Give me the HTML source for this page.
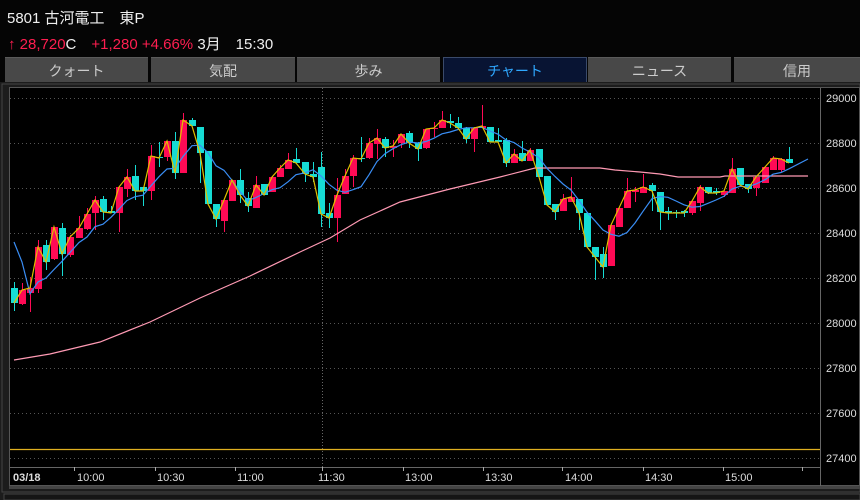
<!DOCTYPE html>
<html><head><meta charset="utf-8">
<style>
body{margin:0;width:860px;height:500px;background:#050505;overflow:hidden;font-family:"Liberation Sans","Noto Sans CJK JP",sans-serif;position:relative}
.t{position:absolute;white-space:nowrap;font-size:15px;color:#eee}
.tab{position:absolute;top:57px;height:25px;background:#484848;color:#ccc;font-size:14px;text-align:center;line-height:26px;border-top:1px solid #5a5a5a}
.sel{background:#081433;color:#2fa8ff;border:1px solid #3a4a6a}
</style></head><body>
<div class="t" style="left:7px;top:7px;">5801 古河電工　東P</div>
<div class="t" style="left:8px;top:33px;"><span style="color:#ff1e50">↑ 28,720</span>C　<span style="color:#ff1e50">+1,280 +4.66%</span> 3月　15:30</div>
<div class="tab" style="left:5px;width:143px">クォート</div>
<div class="tab" style="left:151px;width:144px">気配</div>
<div class="tab" style="left:297px;width:143px">歩み</div>
<div class="tab sel" style="left:443px;width:142px">チャート</div>
<div class="tab" style="left:588px;width:143px">ニュース</div>
<div class="tab" style="left:734px;width:126px">信用</div>
<svg id="c" width="860" height="500" style="position:absolute;left:0;top:0" xmlns="http://www.w3.org/2000/svg">
<rect x="0" y="82" width="860" height="418" fill="#1c1c1c"/>
<rect x="2" y="84" width="858" height="408" fill="none" stroke="#444"/>
<rect x="9.5" y="87.5" width="850" height="398" fill="#000" stroke="#555"/>
<rect x="9" y="486" width="851" height="3" fill="#444"/>
<rect x="4" y="494" width="856" height="6" fill="#151515" stroke="#444"/>
<line x1="820.5" y1="88" x2="820.5" y2="486" stroke="#666"/>
<line x1="10" y1="467.5" x2="820" y2="467.5" stroke="#666"/>
<g id="grid" stroke="#555" stroke-dasharray="1,3"></g>
<line x1="322.5" y1="88" x2="322.5" y2="467" stroke="#666" stroke-dasharray="1,2"/>
<line x1="10" y1="449.5" x2="820" y2="449.5" stroke="#e0b020" stroke-width="1.2"/>
<g font-family="Liberation Sans,sans-serif" font-size="11" fill="#ddd">
<text x="826" y="102">29000</text><text x="826" y="147">28800</text><text x="826" y="192">28600</text>
<text x="826" y="237">28400</text><text x="826" y="282">28200</text><text x="826" y="327">28000</text>
<text x="826" y="372">27800</text><text x="826" y="417">27600</text><text x="826" y="462">27400</text>
</g>
<g font-family="Liberation Sans,sans-serif" font-size="11" fill="#ddd" id="tl">
<text x="13" y="481" font-weight="bold">03/18</text>
<text x="77" y="481">10:00</text><text x="157" y="481">10:30</text><text x="237" y="481">11:00</text>
<text x="318" y="481">11:30</text><text x="405" y="481">13:00</text><text x="485" y="481">13:30</text>
<text x="565" y="481">14:00</text><text x="645" y="481">14:30</text><text x="725" y="481">15:00</text>
</g>
<g id="ticks" stroke="#aaa"></g>
<g id="cd"></g>
<polyline id="pink" fill="none" stroke="#ff9ab4" stroke-width="1.2"/>
<polyline id="blue" fill="none" stroke="#3a8ef5" stroke-width="1.2"/>
<polyline id="yel" fill="none" stroke="#e0c000" stroke-width="1.2"/>
</svg>
<script>
var NS="http://www.w3.org/2000/svg";
function el(p,t,a){var e=document.createElementNS(NS,t);for(var k in a)e.setAttribute(k,a[k]);p.appendChild(e);return e;}
var g=document.getElementById('grid');
for(var k=0;k<9;k++){var y=Math.round(97.5+45*k)+0.5;el(g,'line',{x1:10,y1:y,x2:819,y2:y});}
var tk=document.getElementById('ticks');
[74,155,235,322,403,483,562,643,723,802].forEach(function(x){el(tk,'line',{x1:x+.5,y1:467,x2:x+.5,y2:471});});
var D=[[0,288,303,282,311],[1,290,304,283,305],[1,288,293,277,312],[1,247,289,240,293],[0,245,262,240,270],[1,227,259,227,260],[0,228,254,223,276],[1,237,255,235,257],[1,228,238,216,238],[1,214,229,208,230],
[1,200,213,196,230],[0,199,212,196,220],[0,211,213,206,213],[1,187,213,187,232],[1,177,189,169,197],[0,176,191,165,200],[0,187,191,187,206],[1,156,191,145,200],[0,157,158,142,167],[1,141,157,141,161],
[0,141,173,132,179],[1,120,173,113,173],[0,120,126,118,126],[0,127,153,127,183],[0,151,204,151,204],[0,204,219,204,227],[1,200,221,200,232],[1,180,201,180,201],[0,180,195,169,203],[0,198,206,192,212],
[1,185,208,176,208],[0,184,195,184,195],[1,177,192,177,192],[1,168,177,165,177],[1,160,169,153,169],[0,159,163,148,163],[0,162,174,162,182],[0,174,177,162,182],[0,167,214,152,227],[0,213,218,203,228],
[1,195,218,178,242],[1,176,194,169,194],[1,158,176,155,187],[0,158,159,137,162],[1,143,158,138,159],[1,138,144,129,159],[0,139,148,137,157],[1,146,148,140,157],[1,134,143,134,148],[0,133,143,131,148],
[0,143,149,142,161],[1,129,148,129,149],[1,128,129,122,137],[1,120,128,111,128],[0,121,123,114,128],[0,123,128,117,128],[0,128,139,127,143],[1,128,139,127,152],[1,126,128,105,128],[0,127,142,127,142],
[0,140,142,128,142],[0,140,163,138,167],[1,154,163,149,163],[0,153,161,141,161],[1,150,161,148,161],[0,149,177,149,177],[0,176,205,176,205],[0,204,212,204,220],[1,199,211,194,211],[1,197,202,177,202],
[0,199,213,199,230],[0,213,247,212,247],[0,247,257,247,280],[0,254,267,247,278],[1,225,266,225,266],[1,208,227,208,227],[1,191,208,178,208],[1,190,192,187,202],[1,187,193,174,193],[0,185,191,183,211],
[0,192,212,192,230],[0,211,213,207,220],[0,212,213,210,218],[0,211,213,210,217],[1,201,213,201,215],[1,187,203,185,211],[0,187,193,187,194],[0,191,193,188,195],[1,191,195,191,197],[1,169,193,158,193],
[0,168,185,168,185],[0,184,189,184,193],[1,177,188,177,196],[1,167,183,167,183],[1,158,170,156,170],[1,159,170,158,172],[0,159,163,147,163]];
var cd=document.getElementById('cd'),cl=[],yp=[],bp=[];
D.forEach(function(d,i){var x=Math.round(14+i*8.07);
 var col=d[0]?'#ff0a55':'#16dcd4';
 el(cd,'line',{x1:x+.5,y1:d[3],x2:x+.5,y2:d[4],stroke:col});
 el(cd,'rect',{x:x-3,y:d[1],width:7,height:Math.max(1,d[2]-d[1]),fill:col});
 var c=d[0]?d[1]:d[2];cl.push(c);yp.push(x+','+c);});
for(var i=0;i<cl.length;i++){var s=0,n=0;for(var j=Math.max(0,i-5);j<=i;j++){s+=cl[j];n++;}
 var x=Math.round(14+i*8.07);bp.push(x+','+(s/n).toFixed(1));}
bp[0]='14,242';bp[1]='22,262';
document.getElementById('yel').setAttribute('points',yp.join(' '));
document.getElementById('blue').setAttribute('points',bp.join(' ')+' 808,159');
document.getElementById('pink').setAttribute('points','14,360 50,354 100,342 150,322 200,298 250,276 300,252 330,238 360,220 400,202 450,189 500,177 535,168 600,168 615,170 640,172 660,174 678,177 720,177 725,176 790,176 808,176');
</script>
</body></html>
